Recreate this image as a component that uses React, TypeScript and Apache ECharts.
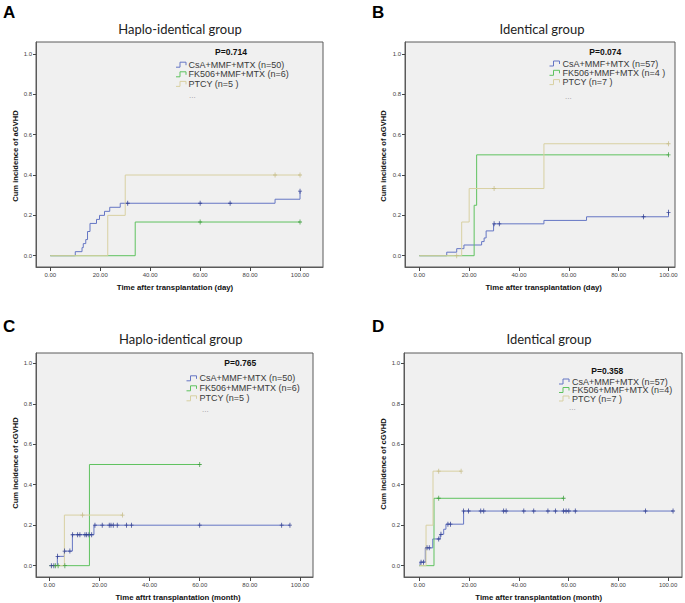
import React, { useEffect, useRef } from 'react';
import * as echarts from 'echarts';

// ---------- tick labels ----------
const xTickValues = [0, 20, 40, 60, 80, 100];
const yTickValues = [0, 0.2, 0.4, 0.6, 0.8, 1.0];

// ---------- group names ----------
const groupNamesA = ['CsA+MMF+MTX (n=50)', 'FK506+MMF+MTX (n=6)', 'PTCY (n=5 )'];
const groupNamesB = ['CsA+MMF+MTX (n=57)', 'FK506+MMF+MTX (n=4 )', 'PTCY (n=7 )'];
const groupNamesC = ['CsA+MMF+MTX (n=50)', 'FK506+MMF+MTX (n=6)', 'PTCY (n=5 )'];
const groupNamesD = ['CsA+MMF+MTX (n=57)', 'FK506+MMF+MTX (n=4)', 'PTCY (n=7 )'];

// ---------- A: aGVHD, haplo-identical (days) ----------
const aCsA = [[0, 0], [10, 0.02], [12.7, 0.04], [13.2, 0.06], [14.2, 0.08], [14.9, 0.12], [15.9, 0.16], [18.5, 0.18], [19.7, 0.2], [21.7, 0.22], [23.8, 0.24], [28, 0.26], [90, 0.28], [100, 0.32]];
const aFK506 = [[0, 0], [34, 0.167], [100, 0.167]];
const aPTCY = [[0, 0], [23, 0.2], [30, 0.4], [100, 0.4]];
const aCsACensor = [31, 60, 72, 100];
const aFK506Censor = [60, 100];
const aPTCYCensor = [90, 100];

// ---------- B: aGVHD, identical (days) ----------
const bCsA = [[0, 0], [11, 0.0175], [15, 0.035], [17.9, 0.053], [25, 0.07], [26, 0.088], [26.8, 0.123], [29.8, 0.158], [50, 0.175], [67.1, 0.193], [100, 0.215]];
const bFK506 = [[0, 0], [22, 0.25], [23, 0.5], [100, 0.5]];
const bPTCY = [[0, 0], [17, 0.167], [20, 0.333], [50, 0.555], [100, 0.555]];
const bCsACensor = [30, 32.1, 90, 100];
const bFK506Censor = [100];
const bPTCYCensor = [15, 30, 100];

// ---------- C: cGVHD, haplo-identical (months) ----------
const cCsA = [[0, 0], [3.2, 0.046], [6, 0.072], [9.2, 0.153], [17.8, 0.2], [96, 0.2]];
const cFK506 = [[0, 0], [16, 0.5], [60, 0.5]];
const cPTCY = [[0, 0], [6, 0.25], [29.2, 0.25]];
const cCsACensor = [0.8, 1.8, 3.3, 6.1, 8.2, 9.3, 11.3, 12.2, 14.2, 14.9, 15.8, 16.9, 18.2, 21.1, 23.9, 24.6, 25.5, 27.1, 30.8, 32.8, 60, 92.7, 96];
const cFK506Censor = [2.4, 3.5, 6.2, 60];
const cPTCYCensor = [13.2, 29.2];

// ---------- D: cGVHD, identical (months) ----------
const dCsA = [[0, 0], [0.3, 0.0175], [2.4, 0.088], [5.4, 0.132], [8.4, 0.155], [9.8, 0.18], [10.7, 0.205], [17.8, 0.27], [102, 0.27]];
const dFK506 = [[0, 0], [5.9, 0.333], [58, 0.333]];
const dPTCY = [[0, 0], [2.7, 0.2], [5.5, 0.467], [16.8, 0.467]];
const dCsACensor = [0.7, 1.7, 3.1, 4.0, 7.8, 8.7, 11.5, 12.5, 17.8, 19.8, 24.7, 25.9, 33.9, 34.9, 42.0, 46.0, 51.7, 54.7, 58.0, 59.0, 60.1, 62.7, 90.9, 102];
const dFK506Censor = [7.8, 58];
const dPTCYCensor = [7.8, 16.8];

// ---------- styling ----------
const LINE_COLORS = ['#6576c4', '#5fc25f', '#d8d0a2'];
const MARK_COLORS = ['#2b3a8f', '#3d9c3d', '#c5bb86'];
const ARIAL = 'Liberation Sans';
const TITLE_FONT = 'Lato';
const PLUS = 'path://M2,0 L3,0 L3,2.5 L5,2.5 L5,3.5 L3,3.5 L3,6 L2,6 L2,3.5 L0,3.5 L0,2.5 L2,2.5 Z';

const panels = [
  {
    letter: 'A', title: 'Haplo-identical group', p: 'P=0.714',
    yName: 'Cum incidence of aGVHD', xName: 'Time after transplantation (day)',
    names: groupNamesA, curves: [aCsA, aFK506, aPTCY], censors: [aCsACensor, aFK506Censor, aPTCYCensor],
    grid: { left: 36, top: 42, width: 287, height: 225 },
    xMin: -5.73, xMax: 109.2, yMin: -0.056, yMax: 1.0595,
    letterPos: [3, 12.5], titlePos: [180, 29], yNamePos: [15, 156], xNamePos: [175, 287],
    pPos: [231, 52], iconX: 176, textX: 188.5, rows: [64.7, 74.3, 83.9], dotsPos: [189, 95],
  },
  {
    letter: 'B', title: 'Identical group', p: 'P=0.074',
    yName: 'Cum incidence of aGVHD', xName: 'Time after transplantation (day)',
    names: groupNamesB, curves: [bCsA, bFK506, bPTCY], censors: [bCsACensor, bFK506Censor, bPTCYCensor],
    grid: { left: 405, top: 42, width: 270, height: 225 },
    xMin: -5.75, xMax: 102.6, yMin: -0.056, yMax: 1.0595,
    letterPos: [372, 12.5], titlePos: [542, 29], yNamePos: [383.7, 156], xNamePos: [543.7, 287],
    pPos: [605.3, 52], iconX: 549.5, textX: 562.5, rows: [63.5, 72.8, 82.1], dotsPos: [565, 96.5],
  },
  {
    letter: 'C', title: 'Haplo-identical group', p: 'P=0.765',
    yName: 'Cum incidence of cGVHD', xName: 'Time aftrt transplantation (month)',
    names: groupNamesC, curves: [cCsA, cFK506, cPTCY], censors: [cCsACensor, cFK506Censor, cPTCYCensor],
    grid: { left: 36, top: 353, width: 277, height: 224 },
    xMin: -5.32, xMax: 105.2, yMin: -0.056, yMax: 1.051,
    letterPos: [3, 326], titlePos: [180.8, 339], yNamePos: [15, 463], xNamePos: [178, 597],
    pPos: [240.3, 363.3], iconX: 186.5, textX: 199.5, rows: [378.3, 388.3, 398.3], dotsPos: [202, 409],
  },
  {
    letter: 'D', title: 'Identical group', p: 'P=0.358',
    yName: 'Cum incidence of cGVHD', xName: 'Time after transplantation (month)',
    names: groupNamesD, curves: [dCsA, dFK506, dPTCY], censors: [dCsACensor, dFK506Censor, dPTCYCensor],
    grid: { left: 404, top: 353, width: 278, height: 224 },
    xMin: -6.16, xMax: 105.6, yMin: -0.056, yMax: 1.051,
    letterPos: [372, 326], titlePos: [549, 339], yNamePos: [383.7, 464], xNamePos: [538.7, 597],
    pPos: [607.3, 371], iconX: 559, textX: 572, rows: [381.5, 390, 398.5], dotsPos: [569, 407.5],
  },
];

function stepValue(curve: number[][], t: number): number {
  let v = curve[0][1];
  for (const [x, y] of curve) {
    if (x <= t + 1e-9) v = y;
  }
  return v;
}

function txt(x: number, y: number, text: string, size: number, weight: string, family: string, fill: string, align: string, extra: any = {}) {
  return {
    type: 'text', x, y, z: 20, ...extra,
    style: {
      text, fontSize: size, fontWeight: weight, fontFamily: family, fill,
      textAlign: align, textVerticalAlign: 'middle',
    },
  };
}

function buildOption() {
  const grid: any[] = [];
  const xAxis: any[] = [];
  const yAxis: any[] = [];
  const series: any[] = [];
  const graphic: any[] = [];

  panels.forEach((pn, i) => {
    grid.push({
      ...pn.grid, show: true, backgroundColor: '#f0f0f0', borderColor: '#5a5a5a', borderWidth: 1,
    });
    xAxis.push({
      gridIndex: i, type: 'value', min: pn.xMin, max: pn.xMax,
      splitLine: { show: false },
      axisLine: { show: true, onZero: false, lineStyle: { color: '#5a5a5a', width: 1 } },
      axisTick: { show: true, inside: false, length: 4, customValues: xTickValues, lineStyle: { color: '#444' } },
      axisLabel: {
        customValues: xTickValues, formatter: (v: number) => Number(v).toFixed(2),
        fontSize: 6, color: '#444', margin: 5, fontFamily: ARIAL,
      },
    });
    yAxis.push({
      gridIndex: i, type: 'value', min: pn.yMin, max: pn.yMax,
      splitLine: { show: false },
      axisLine: { show: true, onZero: false, lineStyle: { color: '#5a5a5a', width: 1 } },
      axisTick: { show: true, inside: false, length: 3, customValues: yTickValues, lineStyle: { color: '#444' } },
      axisLabel: {
        customValues: yTickValues, formatter: (v: number) => Number(v).toFixed(1),
        fontSize: 6, color: '#444', margin: 4, fontFamily: ARIAL,
      },
    });

    pn.curves.forEach((curve, k) => {
      series.push({
        type: 'line', name: pn.names[k], xAxisIndex: i, yAxisIndex: i,
        step: 'end', data: curve, showSymbol: false, symbol: 'none',
        lineStyle: { color: LINE_COLORS[k], width: 1 }, z: 2 + k,
        silent: true,
      });
    });
    pn.censors.forEach((times, k) => {
      series.push({
        type: 'scatter', name: pn.names[k] + ' censored', xAxisIndex: i, yAxisIndex: i,
        data: times.map((t) => [t, stepValue(pn.curves[k], t)]),
        symbol: PLUS, symbolSize: [4, 5],
        itemStyle: { color: MARK_COLORS[k], opacity: 0.9 }, z: 6,
        silent: true,
      });
    });

    graphic.push(txt(pn.letterPos[0], pn.letterPos[1], pn.letter, 17, 'bold', ARIAL, '#000', 'left'));
    graphic.push(txt(pn.titlePos[0], pn.titlePos[1], pn.title, 13, 'normal', TITLE_FONT, '#222', 'center'));
    graphic.push(txt(pn.yNamePos[0], pn.yNamePos[1], pn.yName, 7.6, 'bold', ARIAL, '#111', 'center', { rotation: Math.PI / 2 }));
    graphic.push(txt(pn.xNamePos[0], pn.xNamePos[1], pn.xName, 7.8, 'bold', ARIAL, '#111', 'center'));
    graphic.push(txt(pn.pPos[0], pn.pPos[1], pn.p, 8.5, 'bold', ARIAL, '#111', 'center'));
    pn.rows.forEach((ry, k) => {
      const x0 = pn.iconX;
      graphic.push({
        type: 'polyline', z: 20,
        shape: { points: [[x0, ry + 2.5], [x0 + 4, ry + 2.5], [x0 + 4, ry - 2.5], [x0 + 10, ry - 2.5], [x0 + 10, ry + 0.5]] },
        style: { stroke: LINE_COLORS[k], lineWidth: 1, fill: null },
      });
      graphic.push(txt(pn.textX, ry, pn.names[k], 9, 'normal', ARIAL, '#3a3a3a', 'left'));
    });
    graphic.push(txt(pn.dotsPos[0], pn.dotsPos[1], '...', 8, 'normal', ARIAL, '#9a9a9a', 'left'));
  });

  return {
    animation: false,
    backgroundColor: '#ffffff',
    grid, xAxis, yAxis, series, graphic,
  };
}

export default function App() {
  const ref = useRef<HTMLDivElement>(null);
  useEffect(() => {
    document.body.style.margin = '0';
    if (!ref.current) return;
    const chart = echarts.init(ref.current, undefined, { renderer: 'svg' });
    chart.setOption(buildOption() as any);
    return () => chart.dispose();
  }, []);
  return (
    <div
      ref={ref}
      style={{ position: 'absolute', left: 0, top: 0, width: 685, height: 603, background: '#fff' }}
    />
  );
}
